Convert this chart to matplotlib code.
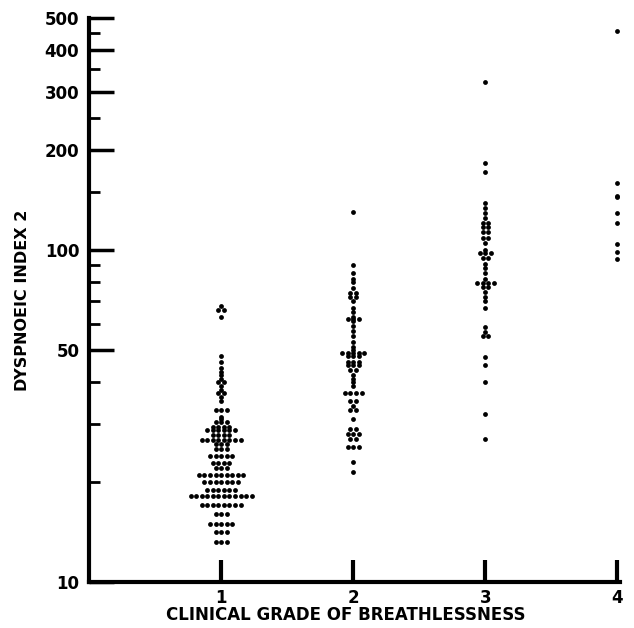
import matplotlib
matplotlib.use("Agg")
import matplotlib.pyplot as plt
from matplotlib.ticker import FixedLocator, NullFormatter
import numpy as np

# grade 1: values come in rows, so keep level + how many dots sit on it
g1_levels = [68, 66, 63, 48, 46, 44, 43, 42, 41, 40, 39, 38, 37, 36, 35,
             33, 31.5, 31, 30.3, 29.3, 28.7, 27.7, 26.8, 26, 25.1, 23.9,
             22.9, 22, 21, 20, 18.9, 18.1, 17.1, 16, 15, 14.1, 13.2]
g1_counts = [1, 2, 1, 1, 1, 1, 1, 1, 1, 2, 1, 1, 2, 1, 1,
             3, 1, 1, 3, 4, 6, 4, 8, 3, 3, 5,
             4, 3, 9, 7, 6, 12, 8, 3, 5, 3, 3]

g2_values = [130, 90, 85, 82, 80, 77, 74, 74, 72, 72, 70, 67, 65, 63, 62, 62, 62,
             61, 59, 57, 55, 53, 51, 50, 49, 49, 49, 49, 49, 48, 48, 48, 46, 46,
             46, 45, 45, 45, 43.5, 43.5, 42, 41, 40, 39, 37, 37, 37, 37, 35, 35,
             34, 33, 33, 31, 29, 29, 28, 28, 28, 27, 27, 25.5, 25.5, 25.5, 23, 21.5]

g3_values = [320, 183, 172, 139, 134, 129, 125, 121, 121, 117, 117, 113, 113,
             109, 109, 105, 100, 98, 98, 98, 94.5, 94.5, 91, 88, 85, 82,
             79.5, 79.5, 79.5, 79.5, 77.5, 77.5, 75, 72, 70, 67, 58.6, 56.6,
             55, 55, 47.6, 45, 40, 32, 27]

g4_values = [457, 159, 145, 144, 129, 121, 104, 99, 94]

grades = [1, 2, 3, 4]
groups = [np.repeat(g1_levels, g1_counts), g2_values, g3_values, g4_values]

major_ticks = [10, 50, 100, 200, 300, 400, 500]
minor_ticks = [20, 30, 40, 60, 70, 80, 90, 150, 250, 350, 450]

fig = plt.figure(figsize=(6.34, 6.28), dpi=100)
ax = fig.add_axes([0.1404, 0.0732, 0.9780 - 0.1404, 0.9713 - 0.0732])

# dots with the same value go side by side in a row
dx = 0.042
for g, vals in zip(grades, groups):
    vals = np.asarray(vals, dtype=float)
    xs, ys = [], []
    for v in np.unique(vals):
        n = int(np.sum(vals == v))
        for k in range(n):
            xs.append(g + (k - (n - 1) / 2) * dx)
            ys.append(v)
    ax.scatter(xs, ys, s=12, color="black", linewidths=0, zorder=3)

ax.set_yscale("log")
ax.set_ylim(10, 500)
ax.set_xlim(0, 4.02)

for s in ["top", "right"]:
    ax.spines[s].set_visible(False)
for s in ["left", "bottom"]:
    ax.spines[s].set_linewidth(3)
ax.spines["bottom"].set_bounds(0, 4.02)

ax.yaxis.set_major_locator(FixedLocator(major_ticks))
ax.yaxis.set_minor_locator(FixedLocator(minor_ticks))
ax.yaxis.set_minor_formatter(NullFormatter())
ax.set_yticklabels([str(t) for t in major_ticks])
ax.set_xticks(grades)
ax.set_xticklabels([str(g) for g in grades])

ax.tick_params(axis="y", which="major", direction="in", length=18, width=2.5,
               pad=7, labelsize=12)
ax.tick_params(axis="y", which="minor", direction="in", length=8, width=2)
ax.tick_params(axis="x", which="major", direction="in", length=16, width=3,
               pad=5, labelsize=12)
for lab in ax.get_xticklabels() + ax.get_yticklabels():
    lab.set_fontweight("bold")

ax.set_xlabel("CLINICAL GRADE OF BREATHLESSNESS", fontsize=12,
              fontweight="bold")
ax.xaxis.set_label_coords(0.483, -0.043)
ax.set_ylabel("DYSPNOEIC INDEX 2", fontsize=11.5, fontweight="bold")
ax.yaxis.set_label_coords(-0.112, 0.5)

fig.savefig("out.png", dpi=100)
